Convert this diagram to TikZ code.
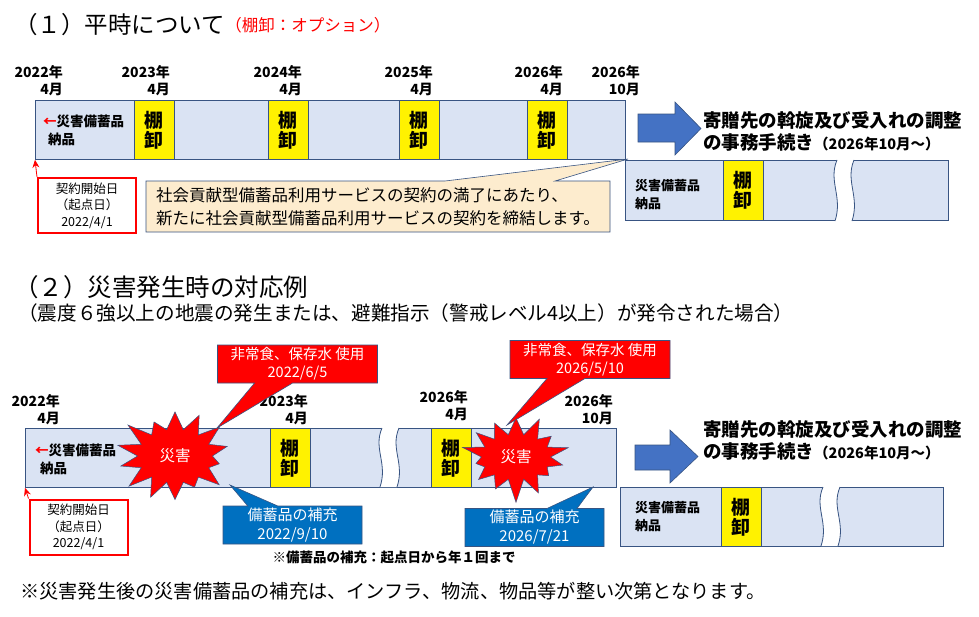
\documentclass[tikz,border=0pt]{standalone}
\usepackage{fontspec}
\setmainfont{Noto Sans CJK JP}
\usetikzlibrary{shapes.symbols, shapes.callouts, arrows.meta, positioning, calc}
\definecolor{barfill}{RGB}{218,227,243}
\definecolor{barline}{RGB}{56,84,130}
\definecolor{arrowblue}{RGB}{68,114,196}
\definecolor{notefill}{RGB}{253,236,206}
\definecolor{refillblue}{RGB}{0,112,192}

\begin{document}
\begin{tikzpicture}[x=1pt, y=-1pt,
    bar/.style={draw=barline, fill=barfill, line width=0.8pt, anchor=north west, inner sep=0pt},
    shelf/.style={draw=barline, fill=yellow, line width=0.8pt, minimum width=40pt, minimum height=59pt, anchor=north west, inner sep=0pt, align=center, font=\fontsize{19}{20}\selectfont\bfseries},
    datelbl/.style={align=right, anchor=south east, inner sep=0pt, font=\fontsize{14}{17}\selectfont\bfseries},
    itemlbl/.style={align=left, anchor=west, inner sep=0pt, font=\fontsize{13.5}{18}\selectfont\bfseries},
    startbox/.style={draw=red, line width=2pt, fill=white, minimum width=98pt, minimum height=55pt, inner sep=0pt, align=center, font=\fontsize{12.5}{16.5}\selectfont},
    usecall/.style={rectangle callout, fill=red, draw=barline, line width=0.6pt, text=white, minimum width=160pt, minimum height=38pt, inner sep=0pt, callout pointer width=38pt, align=center, font=\fontsize{14.5}{18}\selectfont},
    refillcall/.style={rectangle callout, fill=refillblue, draw=barline, line width=0.6pt, text=white, minimum width=139pt, minimum height=38pt, inner sep=0pt, callout pointer width=30pt, align=center, font=\fontsize{15}{19}\selectfont},
    burst/.style={starburst, starburst points=14, starburst point height=26pt, random starburst=41, fill=red, draw=barline, line width=0.5pt, minimum width=110pt, minimum height=106pt, inner sep=11pt, text=white, font=\fontsize{15.5}{18}\selectfont},
    nexttxt/.style={align=left, anchor=west, inner sep=0pt, font=\fontsize{18.5}{22}\selectfont\bfseries}
]
    \fill[white] (0,0) rectangle (979,616);
    \useasboundingbox (0,0) rectangle (979,616);

    % === (1) 平時 ===
    \node[anchor=west, inner sep=0pt, font=\fontsize{23.5}{26}\selectfont] (title1) at (14,25) {（１）平時について};
    \node[anchor=west, inner sep=0pt, text=red, font=\fontsize{16.5}{19}\selectfont] (option1) at (title1.east) {（棚卸：オプション）};

    % 年月
    \node[datelbl] (d1a) at (63,96) {2022年\\4月};
    \node[datelbl] (d1b) at (170,96) {2023年\\4月};
    \node[datelbl] (d1c) at (302,96) {2024年\\4月};
    \node[datelbl] (d1d) at (433,96) {2025年\\4月};
    \node[datelbl] (d1e) at (563,96) {2026年\\4月};
    \node[datelbl] (d1f) at (640,96) {2026年\\10月};

    % 契約期間
    \node[bar, minimum width=590pt, minimum height=59pt] (bar1) at (35,100) {};
    \node[itemlbl] (item1) at (43,130) {\textcolor{red}{←}災害備蓄品\\\hspace{5pt}納品};
    \node[shelf] (shelf1a) at (134,100) {棚\\卸};
    \node[shelf] (shelf1b) at (268,100) {棚\\卸};
    \node[shelf] (shelf1c) at (399,100) {棚\\卸};
    \node[shelf] (shelf1d) at (527,100) {棚\\卸};

    % 契約開始日
    \node[startbox] (start1) at (87,205.5) {契約開始日\\（起点日）\\2022/4/1};
    \draw[red, line width=0.8pt, -{Stealth[length=8pt, width=7pt]}] (start1.north west) -- (bar1.south west);

    % 再契約
    \node[rectangle callout, fill=notefill, draw=barline, line width=0.6pt, minimum width=464pt, minimum height=51pt, inner sep=0pt, callout absolute pointer={(628,159)}, callout pointer width=110pt, align=left, font=\fontsize{16.5}{23}\selectfont] (renew1) at (378,206.5) {社会貢献型備蓄品利用サービスの契約の満了にあたり、\\新たに社会貢献型備蓄品利用サービスの契約を締結します。};

    % 次の契約
    \filldraw[fill=arrowblue, draw=barline, line width=0.6pt] (638,114) -- (675,114) -- (675,102) -- (701,128.5) -- (675,155) -- (675,142) -- (638,142) -- cycle;
    \node[nexttxt] (next1) at (703,131) {寄贈先の斡旋及び受入れの調整\\の事務手続き{\fontsize{14.5}{22}\selectfont（2026年10月～）}};
    \node[bar, minimum width=323pt, minimum height=60pt] (bar1r) at (625,160) {};
    \node[itemlbl, font=\fontsize{13}{18}\selectfont\bfseries] (item1r) at (635,195) {災害備蓄品\\納品};
    \node[shelf, minimum height=60pt] (shelf1r) at (723,160) {棚\\卸};

    % === (2) 災害発生時 ===
    \node[anchor=west, inner sep=0pt, font=\fontsize{24.5}{28}\selectfont] (title2) at (14,287) {（２）災害発生時の対応例};
    \node[anchor=west, inner sep=0pt, font=\fontsize{19.6}{22}\selectfont] (sub2) at (18,313) {（震度６強以上の地震の発生または、避難指示（警戒レベル4以上）が発令された場合）};

    % 年月
    \node[datelbl] (d2a) at (60,425) {2022年\\4月};
    \node[datelbl] (d2b) at (308,425) {2023年\\4月};
    \node[datelbl] (d2c) at (468,421) {2026年\\4月};
    \node[datelbl] (d2d) at (613,425) {2026年\\10月};

    % 契約期間
    \node[bar, minimum width=591pt, minimum height=59pt] (bar2) at (25,428) {};
    \node[itemlbl] (item2) at (35,459) {\textcolor{red}{←}災害備蓄品\\\hspace{5pt}納品};
    \node[shelf] (shelf2a) at (270,428) {棚\\卸};
    \node[shelf] (shelf2b) at (431,428) {棚\\卸};

    % 契約開始日
    \node[startbox] (start2) at (78.5,527) {契約開始日\\（起点日）\\2022/4/1};
    \draw[red, line width=0.8pt, -{Stealth[length=8pt, width=7pt]}] (start2.north west) -- (bar2.south west);

    % 次の契約
    \filldraw[fill=arrowblue, draw=barline, line width=0.6pt] (635,445) -- (670,445) -- (670,430) -- (698,456.5) -- (670,483) -- (670,470) -- (635,470) -- cycle;
    \node[nexttxt] (next2) at (703,440) {寄贈先の斡旋及び受入れの調整\\の事務手続き{\fontsize{14.5}{22}\selectfont（2026年10月～）}};
    \node[bar, minimum width=323pt, minimum height=59pt] (bar2r) at (620,487) {};
    \node[itemlbl, font=\fontsize{13}{18}\selectfont\bfseries] (item2r) at (635,517) {災害備蓄品\\納品};
    \node[shelf] (shelf2r) at (721,487) {棚\\卸};

    % 省略の波線
    \foreach \bx/\by/\bh in {835/160/61, 380/428/59, 821/487/59} {
        \fill[white] (\bx+2,\by) .. controls (\bx-7,\by+0.35*\bh) and (\bx+8,\by+0.6*\bh) .. (\bx,\by+\bh) -- (\bx+17,\by+\bh) .. controls (\bx+25,\by+0.6*\bh) and (\bx+10,\by+0.35*\bh) .. (\bx+19,\by) -- cycle;
        \draw[barline, line width=0.8pt] (\bx+2,\by) .. controls (\bx-7,\by+0.35*\bh) and (\bx+8,\by+0.6*\bh) .. (\bx,\by+\bh);
        \draw[barline, line width=0.8pt] (\bx+19,\by) .. controls (\bx+10,\by+0.35*\bh) and (\bx+25,\by+0.6*\bh) .. (\bx+17,\by+\bh);
    }

    % 災害
    \node[burst] (quake1) at (175,456) {災害};
    \node[burst, random starburst=77, minimum width=100pt, minimum height=86pt, starburst point height=23pt, inner sep=9pt] (quake2) at (516,457) {災害};

    % 使用
    \node[usecall, callout absolute pointer={(217,428)}] (use1) at (297.5,364) {非常食、保存水 使用\\2022/6/5};
    \node[usecall, callout absolute pointer={(507,425)}] (use2) at (590,359.5) {非常食、保存水 使用\\2026/5/10};

    % 補充
    \node[refillcall, callout absolute pointer={(230,485)}] (refill1) at (292.5,525) {備蓄品の補充\\2022/9/10};
    \node[refillcall, callout absolute pointer={(593,487)}] (refill2) at (534.5,527.5) {備蓄品の補充\\2026/7/21};
    \node[inner sep=0pt, font=\fontsize{13.5}{16}\selectfont\bfseries] (refillnote) at (394,557) {※備蓄品の補充：起点日から年１回まで};

    % 注記
    \node[anchor=west, inner sep=0pt, font=\fontsize{19.2}{22}\selectfont] (footnote) at (20,591) {※災害発生後の災害備蓄品の補充は、インフラ、物流、物品等が整い次第となります。};
\end{tikzpicture}
\end{document}
